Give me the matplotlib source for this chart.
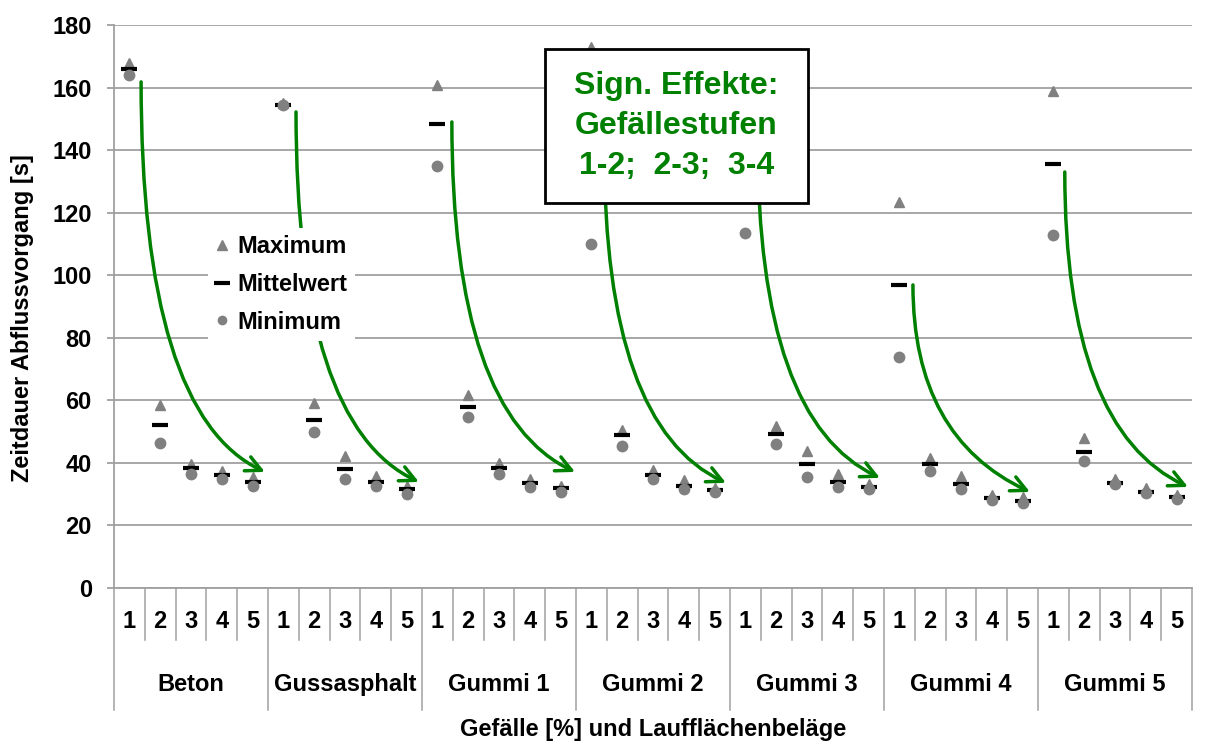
import numpy as np
import matplotlib
matplotlib.use('Agg')
import matplotlib.pyplot as plt
from matplotlib.lines import Line2D
from matplotlib.patches import Rectangle
import matplotlib.transforms as mtransforms

plt.rcParams['font.family'] = ['Liberation Sans', 'DejaVu Sans']
plt.rcParams['font.weight'] = 'bold'

# Data
groups = ['Beton', 'Gussasphalt', 'Gummi 1', 'Gummi 2', 'Gummi 3', 'Gummi 4', 'Gummi 5']
slopes = ['1', '2', '3', '4', '5']

maximum = [167.7, 58.5, 39.8, 37.5, 35.5,
           155.0, 59.2, 42.2, 35.8, 32.6,
           160.8, 61.7, 39.9, 34.8, 32.6,
           173.0, 50.5, 37.7, 34.5, 31.9,
           160.0, 51.8, 43.9, 36.4, 33.1,
           123.4, 41.5, 35.9, 29.7, 29.0,
           158.9, 47.9, 34.8, 31.9, 29.7]
mittelwert = [165.9, 52.1, 38.3, 36.1, 34.0,
              154.4, 53.7, 37.9, 33.9, 31.6,
              148.3, 58.0, 38.5, 33.7, 31.9,
              140.0, 48.9, 36.1, 32.7, 31.3,
              142.0, 49.1, 39.6, 34.0, 32.4,
              96.9, 39.5, 33.1, 28.7, 27.9,
              135.5, 43.6, 33.5, 30.8, 29.2]
minimum = [164.0, 46.3, 36.4, 34.9, 32.6,
           154.4, 50.0, 34.7, 32.6, 30.0,
           134.9, 54.6, 36.4, 32.4, 30.7,
           110.0, 45.5, 34.7, 31.5, 30.7,
           113.4, 46.0, 35.6, 32.2, 31.6,
           73.8, 37.5, 31.6, 28.1, 27.3,
           112.7, 40.6, 33.1, 30.3, 28.5]

# curved arrows (data coords), one per surface
arrow_start_x = [0.38, 5.41, 10.47, 15.42, 20.40, 25.44, 30.37]
arrow_start_y = [161.8, 152.2, 149.0, 140.0, 143.0, 96.9, 133.0]
arrow_end_x = [4.40, 9.40, 14.47, 19.37, 24.37, 29.24, 34.37]
arrow_end_y = [37.1, 33.9, 37.1, 33.6, 35.2, 30.7, 32.3]

box_text = 'Sign. Effekte:\nGefällestufen\n1-2;  2-3;  3-4'

gray = '#808080'
grid_gray = '#a0a0a0'
green = '#008000'

fig = plt.figure(figsize=(12.1, 7.44), dpi=100)
ax = fig.add_axes([0.0942, 0.2097, 0.8909, 0.7567])

x = np.arange(len(maximum))
ax.plot(x, maximum, linestyle='none', marker='^', ms=7.5, color=gray, zorder=3)
ax.plot(x, mittelwert, linestyle='none', marker='_', ms=12, mew=3, color='black', zorder=4)
ax.plot(x, minimum, linestyle='none', marker='o', ms=8.5, color=gray, mec='none', zorder=5)

ax.set_xlim(-0.5, len(maximum) - 0.5)
ax.set_ylim(0, 180)
ax.set_yticks(np.arange(0, 181, 20))
ax.yaxis.grid(True, color=grid_gray, lw=1.3)
ax.set_axisbelow(True)
ax.set_xticks([])
ax.tick_params(axis='y', labelsize=17, length=5, width=1.3, color=grid_gray, pad=11)
for s in ['top', 'right']:
    ax.spines[s].set_visible(False)
for s in ['left', 'bottom']:
    ax.spines[s].set_color(grid_gray)
    ax.spines[s].set_linewidth(1.3)

# two-level category axis
trans = mtransforms.blended_transform_factory(ax.transData, ax.transAxes)
for b in np.arange(-0.5, len(maximum), 1.0):
    group_edge = abs(((b + 0.5) % 5)) < 1e-6
    y_low = -0.2167 if group_edge else -0.0924
    ax.plot([b, b], [0, y_low], transform=trans, color=grid_gray, lw=1.1, clip_on=False)
for i in x:
    ax.text(i, -0.0604, slopes[i % 5], transform=trans, ha='center', va='center', fontsize=17)
for g, name in enumerate(groups):
    ax.text(g * 5 + 2, -0.1723, name, transform=trans, ha='center', va='center', fontsize=17)

ax.text(0.5, -0.252, 'Gefälle [%] und Laufflächenbeläge', transform=ax.transAxes,
        ha='center', va='center', fontsize=17)
ax.text(-0.085, 0.48, 'Zeitdauer Abflussvorgang [s]', transform=ax.transAxes,
        ha='center', va='center', rotation=90, fontsize=17)

# arrows
for sx, sy, ex, ey in zip(arrow_start_x, arrow_start_y, arrow_end_x, arrow_end_y):
    ax.annotate('', xy=(ex, ey), xytext=(sx, sy),
                arrowprops=dict(arrowstyle='->,head_length=1.1,head_width=0.55',
                                color=green, lw=2.5, shrinkA=0, shrinkB=0,
                                connectionstyle='angle3,angleA=90,angleB=-25'),
                zorder=6)

# legend
handles = [Line2D([], [], linestyle='none', marker='^', ms=7, color=gray),
           Line2D([], [], linestyle='none', marker='_', ms=12, mew=3, color='black'),
           Line2D([], [], linestyle='none', marker='o', ms=7, color=gray, mec='none')]
leg = ax.legend(handles, ['Maximum', 'Mittelwert', 'Minimum'], loc='upper left',
                bbox_to_anchor=(0.0872, 0.639), borderaxespad=0, frameon=True,
                fancybox=False, edgecolor='none', framealpha=1, fontsize=17,
                handlelength=0.6, handletextpad=0.35, labelspacing=0.62,
                borderpad=0.3)
leg.set_zorder(7)

# annotation box
ax.add_patch(Rectangle((0.3998, 0.684), 0.244, 0.273, transform=ax.transAxes,
                       facecolor='white', edgecolor='black', lw=2, zorder=8))
ax.text(0.5215, 0.8206, box_text, transform=ax.transAxes, ha='center', va='center',
        fontsize=23, color=green, linespacing=1.42, zorder=9)

fig.savefig('out.png', dpi=100)
